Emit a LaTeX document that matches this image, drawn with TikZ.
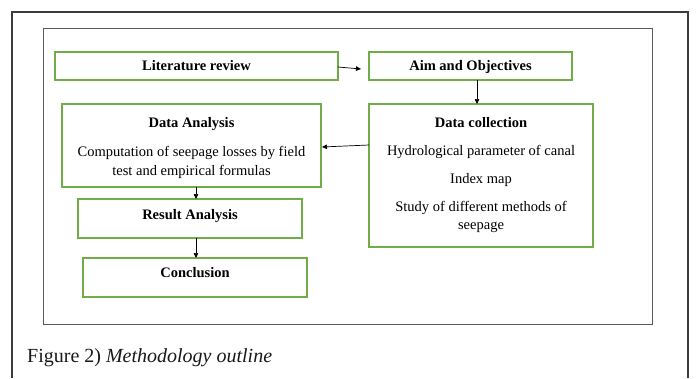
\documentclass[tikz,border=0pt]{standalone}
\usepackage{fontspec}
\setmainfont{Liberation Serif}
\usetikzlibrary{arrows.meta}
\definecolor{boxgreen}{RGB}{112,173,71}
\definecolor{frameouter}{RGB}{60,60,60}
\definecolor{frameinner}{RGB}{90,90,90}
\begin{document}
\begin{tikzpicture}[x=1pt,y=-1pt,
  box/.style={draw=boxgreen, line width=1.1pt, inner sep=0pt, outer sep=0pt, fill=white},
  txt/.style={inner sep=0pt, outer sep=0pt, anchor=base, font=\fontsize{14.5}{17}\selectfont, text=black},
  ttl/.style={txt, font=\fontsize{14.5}{17}\selectfont\bfseries},
  arr/.style={draw=black, line width=0.7pt, -{Triangle[length=5pt,width=4.5pt]}}]
\useasboundingbox (0,0) rectangle (696,378);
\fill[white] (0,0) rectangle (696,378);
% frames
\draw[frameouter, line width=1.6pt] (12,378) -- (12,12) -- (688,12) -- (688,378);
\draw[frameinner, line width=1pt] (43,28) rectangle (652,324);
% boxes
\node[box, minimum width=283pt, minimum height=28pt] (lit) at (196.5,66) {};
\node[box, minimum width=203pt, minimum height=28pt] (aim) at (470.5,66) {};
\node[box, minimum width=259pt, minimum height=83pt] (da) at (191.5,145.5) {};
\node[box, minimum width=224pt, minimum height=143pt] (dc) at (481,175.5) {};
\node[box, minimum width=224pt, minimum height=39pt] (ra) at (190,218.5) {};
\node[box, minimum width=224pt, minimum height=39pt] (con) at (195,277.5) {};
% texts
\node[ttl] (litT) at (196.5,70) {Literature review};
\node[ttl] (aimT) at (470.5,70) {Aim and Objectives};
\node[ttl] (daT) at (191.5,127) {Data Analysis};
\node[txt] (da1) at (191.5,156) {Computation of seepage losses by field};
\node[txt] (da2) at (191.5,175) {test and empirical formulas};
\node[ttl] (dcT) at (481,127) {Data collection};
\node[txt] (dc1) at (481,155) {Hydrological parameter of canal};
\node[txt] (dc2) at (481,183) {Index map};
\node[txt] (dc3) at (481,211) {Study of different methods of};
\node[txt] (dc4) at (481,229) {seepage};
\node[ttl] (raT) at (190,219) {Result Analysis};
\node[ttl] (conT) at (195,277) {Conclusion};
% connector helpers
\coordinate (litA) at (338,67);
\coordinate (aimA) at (361,69);
\coordinate (vx) at (477,0);
\coordinate (dcA) at (369,145);
\coordinate (daA) at (322,147);
\coordinate (cx) at (196,0);
% connectors
\draw[arr] (litA) -- (aimA);
\draw[arr] (aim.south -| vx) -- (dc.north -| vx);
\draw[arr] (dcA) -- (daA);
\draw[arr] (da.south -| cx) -- (ra.north -| cx);
\draw[arr] (ra.south -| cx) -- (con.north -| cx);
% caption
\node[anchor=base west, inner sep=0pt, text=black!90, font=\fontsize{20}{22}\selectfont] (cap) at (27,362) {Figure 2) \textit{Methodology outline}};
\end{tikzpicture}
\end{document}
